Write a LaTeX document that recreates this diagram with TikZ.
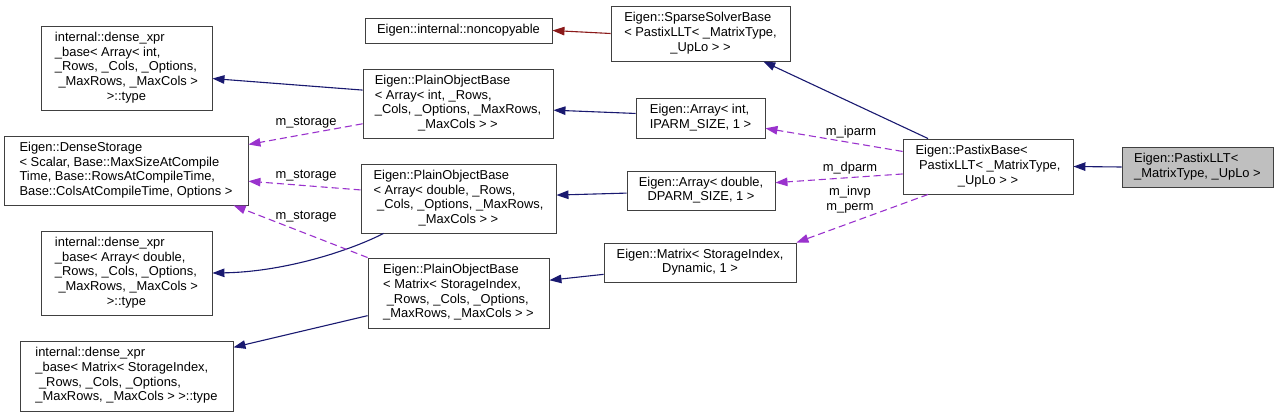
\documentclass[tikz,border=0pt]{standalone}
\usepackage{fontspec}
\setmainfont{Liberation Sans}
\usepackage{tikz}
\usetikzlibrary{arrows.meta}
\definecolor{cPub}{RGB}{25,25,112}
\definecolor{cPriv}{RGB}{139,26,26}
\definecolor{cMem}{RGB}{154,50,205}
\definecolor{cCur}{RGB}{191,191,191}
\newcommand{\dxfont}{\fontsize{12.9}{14.7}\selectfont}
\newcommand{\dxlab}[2]{\begin{tabular}{@{}l@{}}#1\\\multicolumn{1}{@{}c@{}}{#2}\end{tabular}}

\begin{document}
\begin{tikzpicture}[x=1pt,y=-1pt,
   cls/.style={draw=black!75,line width=0.9pt,fill=white,inner sep=0pt,font=\dxfont},
   cur/.style={cls,fill=cCur},
   sz/.style 2 args={minimum width=#1pt,minimum height=#2pt},
   pub/.style={draw=cPub,line width=1.1pt,-{Triangle[length=12pt,width=8.5pt]}},
   prv/.style={draw=cPriv,line width=1.1pt,-{Triangle[length=12pt,width=8.5pt]}},
   mem/.style={draw=cMem,line width=1.1pt,dash pattern=on 7pt off 4pt,-{Triangle[length=12pt,width=8.5pt]}},
   lbl/.style={font=\dxfont,inner sep=0pt,align=center}]
  \useasboundingbox (0,0) rectangle (1279,417);
  % left column
  \node[cls,sz={171}{84}] (dxa) at (126.5,68)
     {\dxlab{internal::dense\_xpr\\\_base< Array< int,\\\_Rows, \_Cols, \_Options,\\\ \_MaxRows, \_MaxCols >}{>::type}};
  \node[cls,sz={244}{69}] (ds) at (126,170.5)
     {\dxlab{Eigen::DenseStorage\\< Scalar, Base::MaxSizeAtCompile\\Time, Base::RowsAtCompileTime,}{Base::ColsAtCompileTime, Options >}};
  \node[cls,sz={171}{84}] (dxd) at (126.5,273)
     {\dxlab{internal::dense\_xpr\\\_base< Array< double,\\\_Rows, \_Cols, \_Options,\\\ \_MaxRows, \_MaxCols >}{>::type}};
  \node[cls,sz={213}{70}] (dxm) at (126.5,376)
     {\dxlab{internal::dense\_xpr\\\_base< Matrix< StorageIndex,\\\ \_Rows, \_Cols, \_Options,}{\_MaxRows, \_MaxCols > >::type}};
  % middle column
  \node[cls,sz={187}{25}] (nc) at (458.5,30.5) {Eigen::internal::noncopyable};
  \node[cls,sz={190}{69}] (pobi) at (458,103.5)
     {\dxlab{Eigen::PlainObjectBase\\< Array< int, \_Rows,\\\_Cols, \_Options, \_MaxRows,}{\_MaxCols > >}};
  \node[cls,sz={195}{69}] (pobd) at (458.5,198.5)
     {\dxlab{Eigen::PlainObjectBase\\< Array< double, \_Rows,\\\ \_Cols, \_Options, \_MaxRows,}{\_MaxCols > >}};
  \node[cls,sz={181}{70}] (pobm) at (458.5,293)
     {\dxlab{Eigen::PlainObjectBase\\< Matrix< StorageIndex,\\\ \_Rows, \_Cols, \_Options,}{\_MaxRows, \_MaxCols > >}};
  % members
  \node[cls,sz={179}{55}] (ssb) at (700.5,33.5)
     {\dxlab{Eigen::SparseSolverBase\\< PastixLLT< \_MatrixType,}{\_UpLo > >}};
  \node[cls,sz={129}{40}] (ai) at (700.5,118)
     {\dxlab{Eigen::Array< int,}{IPARM\_SIZE, 1 >}};
  \node[cls,sz={148}{39}] (ad) at (701,190.5)
     {\dxlab{Eigen::Array< double,}{DPARM\_SIZE, 1 >}};
  \node[cls,sz={192}{39}] (msi) at (700,262.5)
     {\dxlab{Eigen::Matrix< StorageIndex,}{Dynamic, 1 >}};
  % right
  \node[cls,sz={170}{55}] (pb) at (988,166.5)
     {\dxlab{Eigen::PastixBase<\\\ PastixLLT< \_MatrixType,}{\_UpLo > >}};
  \node[cur,sz={151}{40}] (llt) at (1197.5,167)
     {\dxlab{Eigen::PastixLLT<}{\_MatrixType, \_UpLo >}};
  % inheritance
  \draw[pub] (llt.west) -- (pb.east);
  \draw[pub] (pb.155.7) -- (ssb.-24);
  \draw[prv] (ssb.west) -- (nc.east);
  \draw[pub] (ai.176) -- (pobi.-4);
  \draw[pub] (ad.182) -- (pobd.2);
  \draw[pub] (msi.187) -- (pobm.8);
  \draw[pub] (pobi.172) -- (dxa.-7);
  \draw[pub] (pobd.205) .. controls (345,253) and (280,272) .. (dxd.east);
  \draw[pub] (pobm.194) -- (dxm.15);
  % members
  \draw[mem] (pb.170) -- (ai.-9);
  \draw[mem] (pb.185) -- (ad.6);
  \draw[mem] (pb.205) -- (msi.north east);
  \draw[mem] (pobi.192) -- (ds.12);
  \draw[mem] (pobd.175) -- (ds.-5);
  \draw[mem] (pobm.north west) -- (ds.-18.4);
  \node[lbl] (l1) at (306,123) {m\_storage};
  \node[lbl] (l2) at (306,176) {m\_storage};
  \node[lbl] (l3) at (306,217) {m\_storage};
  \node[lbl] (l4) at (851,132) {m\_iparm};
  \node[lbl] (l5) at (850,168) {m\_dparm};
  \node[lbl] (l6) at (850,200) {m\_invp\\m\_perm};
\end{tikzpicture}
\end{document}
